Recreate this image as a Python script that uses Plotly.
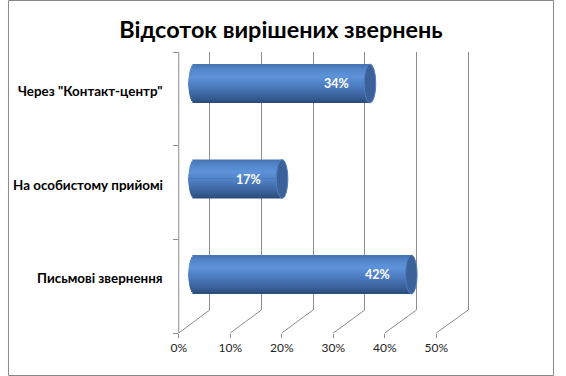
import plotly.graph_objects as go

# ---------------- data ----------------
categories = ['Через "Контакт-центр"', 'На особистому прийомі', 'Письмові звернення']  # top -> bottom
values = [0.34, 0.17, 0.42]
tick_values = [0, 0.1, 0.2, 0.3, 0.4, 0.5]
tick_labels = ['0%', '10%', '20%', '30%', '40%', '50%']
title_text = 'Відсоток вирішених звернень'

# ---------------- geometry / style ----------------
W, H = 566, 376
FONT = 'Lato, Carlito, Calibri, sans-serif'
GRID = '#8c8c8c'


def fx(p):
    return p / W


def fy(p):
    return 1 - p / H


cat_order = list(reversed(categories))  # bottom -> top for axis

# back wall: 0% at 209px, 50% at 477px ; top 52px, bottom 310px
BACK_L, BACK_R, BACK_T, BACK_B = 209, 477, 52, 310
# front floor edge: 0% at 177px, 50% at 444px, at 333px
FRONT_L, FRONT_R, FRONT_Y = 177, 444, 333
PXU = (BACK_R - BACK_L) / 0.5
PAD = 0.004
back_dom = [fx(BACK_L - PAD * PXU), fx(BACK_R + PAD * PXU)]
# bars at mid depth: 0% at 193px
BAR0 = 193
XMIN = -0.03
bar_dom = [fx(BAR0 + XMIN * PXU), fx(BAR0 + 0.5 * PXU)]
BAR_MID, BAR_STEP = 179, 95.5
bar_ydom = [fy(BAR_MID + 1.5 * BAR_STEP), fy(BAR_MID - 1.5 * BAR_STEP)]
BAR_W = 39 / BAR_STEP
CAP_A = 6 / PXU

stops = [(0.0, (0x46, 0x72, 0xb0)), (0.12, (0x52, 0x84, 0xc8)), (0.32, (0x5e, 0x93, 0xda)),
         (0.55, (0x4e, 0x7e, 0xc2)), (0.75, (0x3f, 0x69, 0xa6)), (0.9, (0x33, 0x59, 0x8e)),
         (1.0, (0x2a, 0x4a, 0x7a))]


def grad(t):
    for (t0, c0), (t1, c1) in zip(stops[:-1], stops[1:]):
        if t0 <= t <= t1:
            f = (t - t0) / (t1 - t0)
            c = [round(a + (b - a) * f) for a, b in zip(c0, c1)]
            return 'rgb(%d,%d,%d)' % tuple(c)
    return 'rgb(%d,%d,%d)' % stops[-1][1]


fig = go.Figure()

# back wall helper trace (for grid)
fig.add_trace(go.Scatter(x=[0, 0.5], y=[0, 1], mode='markers', marker=dict(opacity=0),
                         hoverinfo='skip', showlegend=False, xaxis='x', yaxis='y'))

# cylinder bodies as stacked horizontal stripes of bars
N = 20
half = BAR_W / 2
eps = 0.004
order = list(range(N // 2)) + list(range(N - 1, N // 2 - 1, -1))
for k in order:
    top = half - k * BAR_W / N
    bot = half - (k + 1) * BAR_W / N
    s = ((top + bot) / 2) / half
    e = CAP_A * (max(0.0, 1 - s * s)) ** 0.5
    if k < N // 2:
        off, wid = -eps, top + eps
    else:
        off, wid = bot, -bot + eps
    fig.add_trace(go.Bar(
        y=categories, x=[v + e for v in values], base=[-e] * len(values),
        orientation='h', offset=off, width=wid,
        marker=dict(color=grad((k + 0.5) / N), line=dict(width=0)),
        hoverinfo='skip', showlegend=False, xaxis='x2', yaxis='y2'))

# category axis helper trace
fig.add_trace(go.Scatter(x=[0] * len(categories), y=categories, mode='markers',
                         marker=dict(opacity=0), hoverinfo='skip', showlegend=False,
                         xaxis='x3', yaxis='y3'))

shapes = []
annotations = []
# end caps of the cylinders + value labels
for cat, v in zip(categories, values):
    idx = cat_order.index(cat)
    shapes.append(dict(type='circle', xref='x2', yref='y2', x0=v - CAP_A, x1=v + CAP_A,
                       y0=idx - half, y1=idx + half, fillcolor='#3c6198',
                       line=dict(color='#4f7fc0', width=1), layer='above'))
    annotations.append(dict(x=v, y=cat, xref='x2', yref='y2', text='%d%%' % round(v * 100),
                            xanchor='right', yanchor='middle', xshift=-19, showarrow=False,
                            font=dict(family=FONT, size=12.5, color='white', weight='bold')))

# category labels (front plane)
for cat in categories:
    annotations.append(dict(x=fx(FRONT_L - 14), xref='paper', y=cat, yref='y3', text=cat,
                            xanchor='right', yanchor='middle', yshift=8, showarrow=False,
                            font=dict(family=FONT, size=13.4, color='black', weight='bold')))

# floor diagonals
for t in tick_values:
    x_front = FRONT_L + t / 0.5 * (FRONT_R - FRONT_L)
    x_back = BACK_L + t / 0.5 * (BACK_R - BACK_L)
    shapes.append(dict(type='line', xref='paper', yref='paper', x0=fx(x_front), y0=fy(FRONT_Y),
                       x1=fx(x_back), y1=fy(BACK_B), line=dict(color=GRID, width=1)))

# left (front) vertical edge of the side wall
shapes.append(dict(type='line', xref='paper', yref='paper', x0=fx(FRONT_L), x1=fx(FRONT_L),
                   y0=fy(FRONT_Y), y1=fy(BACK_T), line=dict(color=GRID, width=1)))

# outer border
shapes.append(dict(type='rect', xref='paper', yref='paper', x0=fx(0.5), x1=fx(W - 0.5),
                   y0=fy(H - 0.5), y1=fy(0.5), line=dict(color='#8a8a8a', width=1)))

fig.update_layout(
    width=W, height=H, margin=dict(l=0, r=0, t=0, b=0),
    paper_bgcolor='white', plot_bgcolor='rgba(0,0,0,0)',
    barmode='overlay', showlegend=False,
    title=dict(text=title_text, x=0.5, xanchor='center', xref='paper', y=fy(30), yref='paper',
               yanchor='middle', font=dict(family=FONT, size=23.4, color='black', weight='bold')),
    xaxis=dict(domain=back_dom, range=[-PAD, 0.5 + PAD], tickvals=tick_values,
               showticklabels=False, ticks='', showgrid=True, gridcolor=GRID, gridwidth=1,
               zeroline=False, showline=False, anchor='y', fixedrange=True),
    yaxis=dict(domain=[fy(BACK_B), fy(BACK_T)], range=[0, 1], visible=False, anchor='x',
               fixedrange=True),
    xaxis2=dict(domain=bar_dom, range=[XMIN, 0.5], visible=False, anchor='y2', fixedrange=True),
    yaxis2=dict(domain=bar_ydom, range=[-0.5, 2.5], type='category', categoryorder='array',
                categoryarray=cat_order, visible=False, anchor='x2', fixedrange=True),
    xaxis3=dict(domain=[fx(FRONT_L), fx(FRONT_R)], range=[0, 0.5], tickvals=tick_values,
                ticktext=tick_labels, ticks='outside', ticklen=4, tickcolor=GRID,
                showgrid=False, zeroline=False, showline=False, anchor='y3',
                tickfont=dict(family=FONT, size=12, color='#222222'), fixedrange=True),
    yaxis3=dict(domain=[fy(FRONT_Y), fy(BACK_T)], range=[-0.5, 2.5], type='category',
                categoryorder='array', categoryarray=cat_order, anchor='x3',
                showline=False, ticks='outside', ticklen=5, showticklabels=False,
                tickcolor=GRID, tickson='boundaries', showgrid=False, zeroline=False,
                fixedrange=True),
    shapes=shapes, annotations=annotations,
)

fig.write_html('out.html', post_script="document.body.style.margin='0';",
               config={'displayModeBar': False})
